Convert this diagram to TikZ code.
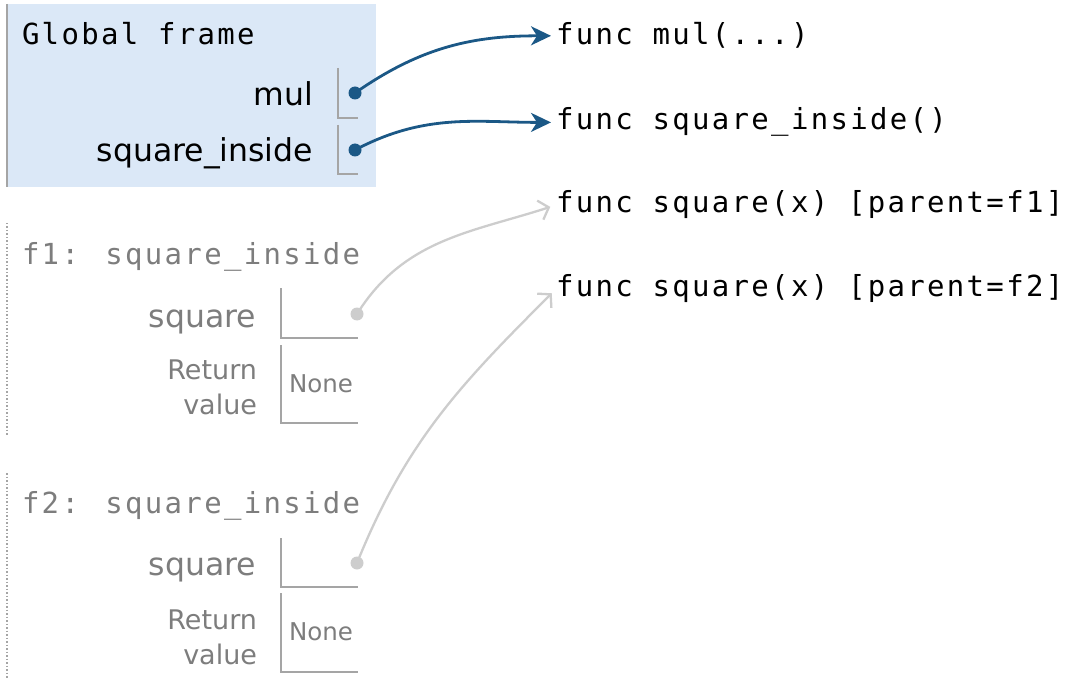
\documentclass[tikz,border=0pt]{standalone}
\usepackage{fontspec}
\setmainfont{DejaVu Sans}
\newfontfamily\codefont[LetterSpace=8]{DejaVu Sans Mono}
\usetikzlibrary{arrows.meta}
\usetikzlibrary{positioning}

\definecolor{framebg}{RGB}{219,232,247}
\definecolor{ptrblue}{RGB}{27,88,134}
\definecolor{ptrgray}{RGB}{205,205,205}
\definecolor{labelgray}{RGB}{125,125,125}
\definecolor{linegray}{RGB}{165,165,165}

\begin{document}
\begin{tikzpicture}[x=1pt,y=-1pt,
	every node/.style={inner sep=0pt,outer sep=0pt},
	code/.style={font=\codefont\fontsize{29}{32}\selectfont,anchor=base west},
	varname/.style={font=\fontsize{31.5}{34}\selectfont,anchor=base east},
	retname/.style={font=\fontsize{27}{35}\selectfont,align=right,anchor=east},
	noneval/.style={font=\fontsize{24.5}{28}\selectfont,anchor=base west},
	ptrdot/.style={circle,minimum size=13pt},
	valbox/.style={linegray,line width=1.3pt},
	blueptr/.style={ptrblue,line width=2.8pt,-{Stealth[length=20pt,width=19pt,inset=6pt]},shorten >=5pt},
	grayptr/.style={ptrgray,line width=2.3pt,-{Straight Barb[length=9pt,width=20pt]},shorten >=6pt}
]
	\useasboundingbox (0,0) rectangle (1090,679);

	% global frame
	\fill[framebg] (6,4) rectangle (376,187);
	\draw[linegray,line width=2pt] (7,4) -- (7,187);
	\node[code] (gtitle) at (22,45) {Global frame};
	\node[varname] (gmulname) at (313,106) {mul};
	\node[varname] (gsqname) at (313,162) {square\_inside};
	\draw[valbox] (338,68) -- (338,118) -- (358,118);
	\draw[valbox] (338,125) -- (338,174) -- (358,174);
	\node[ptrdot,fill=ptrblue] (gmul) at (355,93) {};
	\node[ptrdot,fill=ptrblue] (gsq) at (355,150) {};

	% f1 frame
	\draw[linegray,line width=1.5pt,dotted] (7,223) -- (7,435);
	\node[code,labelgray] (f1title) at (22,265) {f1: square\_inside};
	\node[varname,labelgray] (f1sqname) at (256,327) {square};
	\node[retname,labelgray] (f1retname) at (257,387) {Return\\value};
	\draw[valbox] (281,288) -- (281,338) -- (358,338);
	\draw[valbox] (281,345) -- (281,423) -- (358,423);
	\node[noneval,labelgray] (f1ret) at (289,392) {None};
	\node[ptrdot,fill=ptrgray] (f1sq) at (357,314) {};

	% f2 frame
	\draw[linegray,line width=1.5pt,dotted] (7,473) -- (7,679);
	\node[code,labelgray] (f2title) at (22,513) {f2: square\_inside};
	\node[varname,labelgray] (f2sqname) at (256,575) {square};
	\node[retname,labelgray] (f2retname) at (257,637) {Return\\value};
	\draw[valbox] (281,538) -- (281,587) -- (358,587);
	\draw[valbox] (281,593) -- (281,672) -- (358,672);
	\node[noneval,labelgray] (f2ret) at (289,640) {None};
	\node[ptrdot,fill=ptrgray] (f2sq) at (357,563) {};

	% heap objects
	\node[code] (fmul) at (556,45) {func mul(...)};
	\node[code] (fsqin) at (556,130) {func square\_inside()};
	\node[code] (fsq1) at (556,213) {func square(x) [parent=f1]};
	\node[code] (fsq2) at (556,297) {func square(x) [parent=f2]};

	% pointers
	\draw[blueptr] (gmul.center) to[out=35,in=180] (fmul.west);
	\draw[blueptr] (gsq.center) to[out=28,in=180] (fsqin.west);
	\draw[grayptr] (f1sq.center) to[out=58,in=198] (fsq1.west);
	\draw[grayptr] (f2sq.center) to[out=68,in=225] (fsq2.west);
\end{tikzpicture}
\end{document}
